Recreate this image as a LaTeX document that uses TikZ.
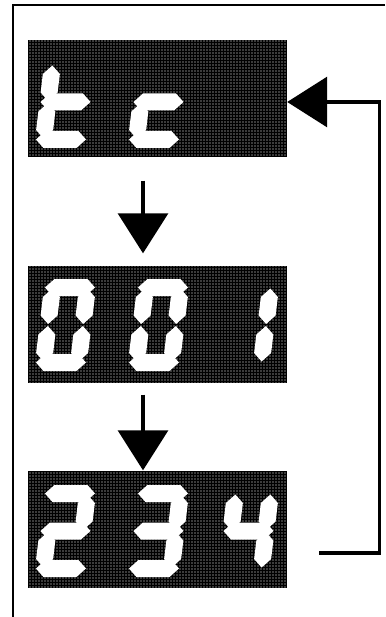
\documentclass[tikz,border=0pt]{standalone}
\usetikzlibrary{arrows.meta,patterns}

% Trama a puntini del display
\pgfdeclarepatternformonly{displaydots}{\pgfqpoint{-1pt}{-1pt}}{\pgfqpoint{1pt}{1pt}}{\pgfqpoint{3pt}{3pt}}%
  {\pgfpathcircle{\pgfqpoint{0pt}{0pt}}{.65pt}\pgfusepath{fill}}

% Segmenti del display (cifra dritta, larghezza 52, altezza 92, spessore 17)
\newcommand{\hseg}[1]{\fill[segment] (1,#1) -- (9.5,#1-8.5) -- (42.5,#1-8.5) -- (51,#1) -- (42.5,#1+8.5) -- (9.5,#1+8.5) -- cycle;}
\newcommand{\vseg}[3]{\fill[segment] (#1,#2+1) -- (#1+8.5,#2+9.5) -- (#1+8.5,#3-9.5) -- (#1,#3-1) -- (#1-8.5,#3-9.5) -- (#1-8.5,#2+9.5) -- cycle;}
\newcommand{\segma}{\hseg{8.5}}
\newcommand{\segmg}{\hseg{46}}
\newcommand{\segmd}{\hseg{83.5}}
\newcommand{\segmf}{\vseg{8.5}{8.5}{46}}
\newcommand{\segmb}{\vseg{43.5}{8.5}{46}}
\newcommand{\segme}{\vseg{8.5}{46}{83.5}}
\newcommand{\segmc}{\vseg{43.5}{46}{83.5}}
% Cifra inclinata: angolo in alto a sinistra, lista dei segmenti accesi
\newcommand{\digit}[3]{%
  \begin{scope}[shift={(#1,#2)},xslant=0.12]
    \foreach \s in {#3} {\csname segm\s\endcsname}
  \end{scope}}

\tikzset{
  display/.style={preaction={fill=black}, pattern=displaydots, pattern color=white,
    minimum width=259pt, minimum height=117pt, inner sep=0pt},
  segment/.style={fill=white},
  frame/.style={line width=1.3pt},
  flow/.style={line width=3.2pt, -{Triangle[length=40pt,width=50pt]}}
}

\begin{document}
\begin{tikzpicture}[x=1pt,y=-1pt]

\useasboundingbox (0,0) rectangle (385,617);

% Cornice
\draw[frame] (13,617) -- (13,5) -- (385,5);

% Display
\node[display] (d1) at (157.5,99) {};
\node[display] (d2) at (157.5,324) {};
\node[display] (d3) at (157.5,529) {};

% Cifre: t c / 0 0 1 / 2 3 4
\digit{45}{56}{f,g,e,d}
\digit{138}{56}{g,e,d}

\digit{45}{279}{a,b,c,d,e,f}
\digit{138}{279}{a,b,c,d,e,f}
\digit{228}{279}{b,c}

\digit{45}{485}{a,b,g,e,d}
\digit{138}{485}{a,b,g,c,d}
\digit{228}{485}{f,g,b,c}

% Frecce
\draw[flow] ([xshift=-14.5pt,yshift=-23pt]d1.south) -- ([xshift=-14.5pt,yshift=12pt]d2.north);
\draw[flow] ([xshift=-14.5pt,yshift=-12pt]d2.south) -- ([xshift=-14.5pt]d3.north);
\draw[flow] ([xshift=32pt,yshift=-24pt]d3.east) -- ++(60,0) |- ([yshift=-3pt]d1.east);

\end{tikzpicture}
\end{document}
